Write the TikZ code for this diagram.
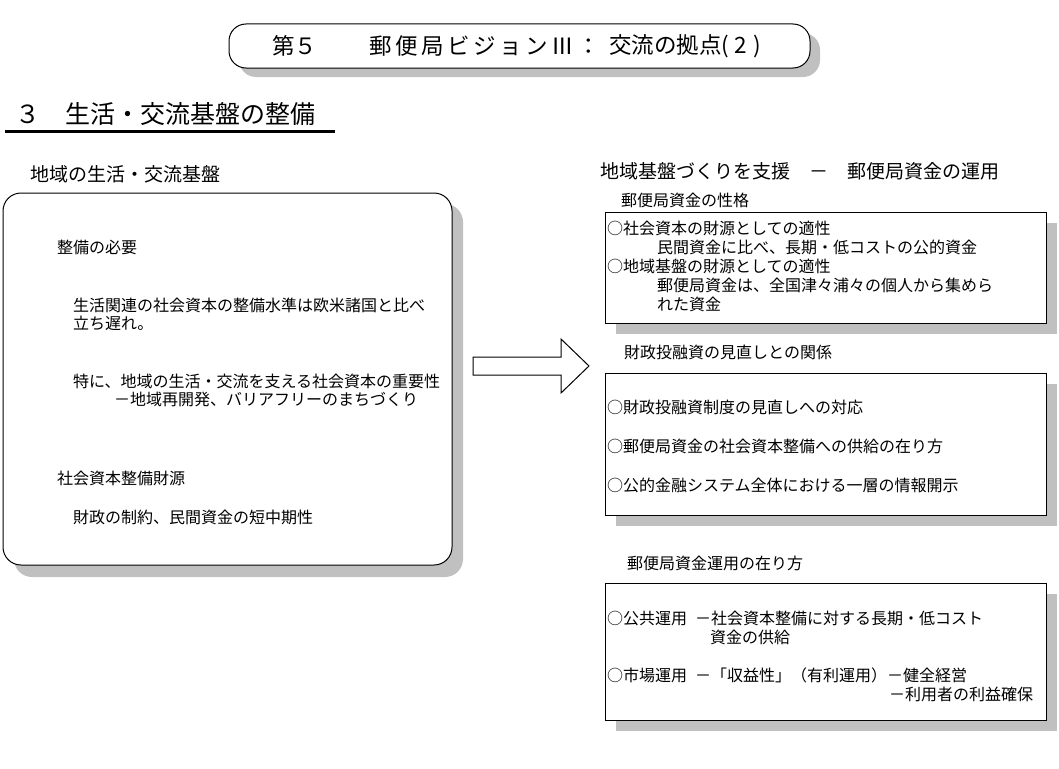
\documentclass[tikz,border=0pt]{standalone}
\usepackage{fontspec}
\setmainfont{Noto Sans CJK JP}
\definecolor{shadowgray}{HTML}{C0C0C0}
\begin{document}
\begin{tikzpicture}[x=1pt,y=-1pt,
  txt/.style={anchor=west,inner sep=0pt,font=\fontsize{16}{18}\selectfont},
  lbl/.style={anchor=west,inner sep=0pt,font=\fontsize{19}{21}\selectfont},
  ttl/.style={anchor=west,inner sep=0pt,font=\fontsize{22.5}{24}\selectfont},
  frame/.style={draw=black,line width=1pt,fill=white},
  shadow/.style={fill=shadowgray,draw=none}]
\useasboundingbox[fill=white] (0,0) rectangle (1059,768);

% title box
\fill[shadow,rounded corners=17pt] (239,33) rectangle (820,77);
\draw[frame,rounded corners=17pt] (229,24) rectangle (810,68);
\node[ttl] (t1) at (272,46) {第５};
\node[ttl] (t2) at (369,46) {\addfontfeature{LetterSpace=16}郵便局ビジョンⅢ：};
\node[ttl] (t3) at (609,46) {交流の拠点\addfontfeature{LetterSpace=25}(2)};

% section heading
\node[anchor=west,inner sep=0pt,font=\fontsize{25}{27}\selectfont] (sec) at (15,114) {３　生活・交流基盤の整備};
\draw[line width=3pt] (5,131) -- (335,131);

% left
\node[lbl] (lhead) at (30,174) {地域の生活・交流基盤};
\fill[shadow,rounded corners=18pt] (14,204) rectangle (463,577);
\draw[frame,rounded corners=18pt] (3,193) rectangle (452,565);
\node[txt] (l1) at (57,247) {整備の必要};
\node[txt] (l2) at (73,305) {生活関連の社会資本の整備水準は欧米諸国と比べ};
\node[txt] (l3) at (73,323) {立ち遅れ。};
\node[txt] (l4) at (73,381) {特に、地域の生活・交流を支える社会資本の重要性};
\node[txt] (l5) at (114,399) {－地域再開発、バリアフリーのまちづくり};
\node[txt] (l6) at (57,478) {社会資本整備財源};
\node[txt] (l7) at (73,517) {財政の制約、民間資金の短中期性};

% arrow
\draw[line width=1pt,fill=white] (473,357) -- (561,357) -- (561,339) -- (589,366) -- (561,393) -- (561,375) -- (473,375) -- cycle;

% right
\node[lbl] (rhead) at (600,171) {地域基盤づくりを支援　－　郵便局資金の運用};
\node[txt] (r1h) at (621,200) {郵便局資金の性格};
\fill[shadow] (616,223) rectangle (1057,334);
\draw[frame] (605,212) rectangle (1046,323);
\node[txt] (r11) at (607,228) {○社会資本の財源としての適性};
\node[txt] (r12) at (657,247) {民間資金に比べ、長期・低コストの公的資金};
\node[txt] (r13) at (607,266) {○地域基盤の財源としての適性};
\node[txt] (r14) at (657,285) {郵便局資金は、全国津々浦々の個人から集めら};
\node[txt] (r15) at (657,304) {れた資金};

\node[txt] (r2h) at (624,352) {財政投融資の見直しとの関係};
\fill[shadow] (616,384) rectangle (1057,526);
\draw[frame] (605,373) rectangle (1046,515);
\node[txt] (r21) at (607,407) {○財政投融資制度の見直しへの対応};
\node[txt] (r22) at (607,446) {○郵便局資金の社会資本整備への供給の在り方};
\node[txt] (r23) at (607,485) {○公的金融システム全体における一層の情報開示};

\node[txt] (r3h) at (627,563) {郵便局資金運用の在り方};
\fill[shadow] (616,594) rectangle (1057,731);
\draw[frame] (605,583) rectangle (1046,720);
\node[txt] (r31) at (607,618) {○公共運用\enspace －社会資本整備に対する長期・低コスト};
\node[txt] (r32) at (710,637) {資金の供給};
\node[txt] (r33) at (607,675) {○市場運用\enspace －「収益性」（有利運用）－健全経営};
\node[txt] (r35) at (889,694) {－利用者の利益確保};
\end{tikzpicture}
\end{document}
